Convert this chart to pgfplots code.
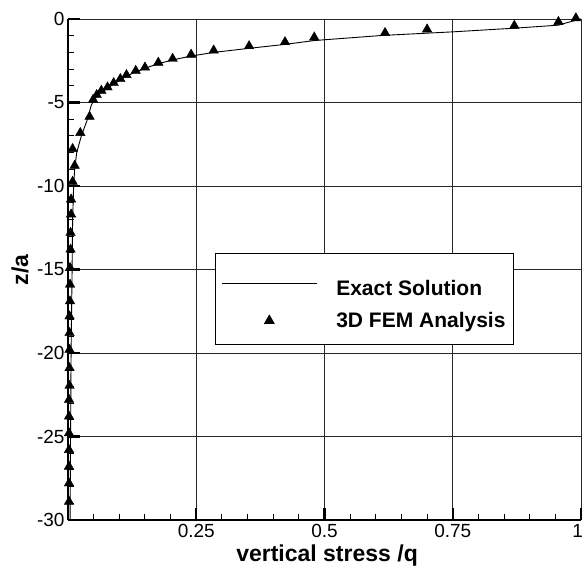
\documentclass[border=0pt]{standalone}
\usepackage{fontspec}
\setmainfont{Liberation Sans}
\usepackage{pgfplots}
\pgfplotsset{compat=1.18}
\pgfplotsset{
  linelegend/.style={legend image code/.code={\draw[##1] (0bp,0bp) -- (95bp,0bp);}},
  marklegend/.style={legend image code/.code={\path (0bp,0bp) (95bp,0bp); \draw[##1] plot coordinates {(47.5bp,0bp)};}},
}
\begin{document}
\begin{tikzpicture}
\begin{axis}[
  width=513bp, height=501bp, scale only axis,
  xmin=0, xmax=1, ymin=-30, ymax=0,
  xtick={0,0.25,0.5,0.75,1}, xticklabels={,0.25,0.5,0.75,\makebox[4bp][r]{1}},
  ytick={-30,-25,-20,-15,-10,-5,0}, yticklabels={-30,-25,-20,-15,-10,-5,0},
  minor x tick num=4, minor y tick num=4,
  axis x line*=bottom, axis y line*=left,
  axis line style={line width=2.4bp, -},
  grid=major, major grid style={line width=0.9bp, black!85},
  tick align=inside,
  major tick length=12bp, minor tick length=6bp,
  major tick style={line width=2.4bp, black},
  minor tick style={line width=1bp, black},
  ticklabel style={font=\fontsize{19bp}{21bp}\selectfont},
  xticklabel style={yshift=-1bp},
  xlabel={\textbf{vertical stress /q}},
  ylabel={\textbf{z/a}},
  xlabel style={font=\fontsize{23bp}{26bp}\selectfont, at={(axis description cs:0.505,0)}, anchor=base, yshift=-41.7bp},
  ylabel style={font=\fontsize{23bp}{26bp}\selectfont, at={(axis description cs:-0.0936,0.499)}, anchor=center},
  clip=false,
  legend cell align=left,
  legend style={at={(rel axis cs:0.2865,0.532)}, anchor=north west, draw=black, line width=0.8bp,
    font=\bfseries\fontsize{21bp}{23bp}\selectfont, inner xsep=6bp, inner ysep=13bp, row sep=11bp,
    /tikz/every odd column/.append style={column sep=17bp}},
]
\addplot[black, line width=0.9bp, mark=none, linelegend] coordinates {
(1.0,0) (0.975,-0.2) (0.956,-0.37) (0.87,-0.55) (0.75,-0.77) (0.61,-0.99)
(0.48,-1.29) (0.423,-1.52) (0.352,-1.76) (0.284,-2.0) (0.24,-2.22) (0.204,-2.45)
(0.176,-2.68) (0.150,-2.95) (0.132,-3.17) (0.114,-3.42) (0.102,-3.65) (0.089,-3.9)
(0.077,-4.15) (0.065,-4.4) (0.056,-4.65) (0.049,-4.95) (0.045,-5.2) (0.038,-6)
(0.026,-7) (0.017,-8) (0.013,-9) (0.011,-10) (0.009,-12) (0.008,-15)
(0.006,-20) (0.005,-25) (0.004,-30)
};
\addplot[only marks, mark=triangle*, mark size=5.5bp, black, marklegend] coordinates {
(0.99,0.05) (0.956,-0.17) (0.870,-0.40) (0.700,-0.62) (0.618,-0.83) (0.480,-1.10)
(0.423,-1.38) (0.353,-1.62) (0.284,-1.88) (0.240,-2.13) (0.204,-2.38) (0.176,-2.61)
(0.150,-2.90) (0.132,-3.10) (0.114,-3.35) (0.102,-3.59) (0.089,-3.83) (0.077,-4.09)
(0.065,-4.29) (0.056,-4.55) (0.049,-4.83) (0.042,-5.85) (0.024,-6.82) (0.009,-7.78)
(0.013,-8.78) (0.009,-9.74) (0.006,-10.8) (0.006,-11.7) (0.005,-12.8) (0.005,-13.8)
(0.004,-14.9) (0.004,-15.9) (0.004,-16.9) (0.003,-17.8) (0.003,-18.8) (0.003,-19.8)
(0.003,-20.9) (0.003,-21.96) (0.002,-22.8) (0.002,-23.8) (0.002,-24.8) (0.002,-25.8)
(0.002,-26.8) (0.002,-27.8) (0.002,-28.9)
};
\legend{{\rule{0pt}{27bp}Exact Solution}, 3D FEM Analysis}
\end{axis}
\pgfresetboundingbox
\path[use as bounding box] ([shift={(-68bp,-52bp)}]current axis.south west) rectangle ([shift={(3bp,19bp)}]current axis.north east);
\end{tikzpicture}
\end{document}
